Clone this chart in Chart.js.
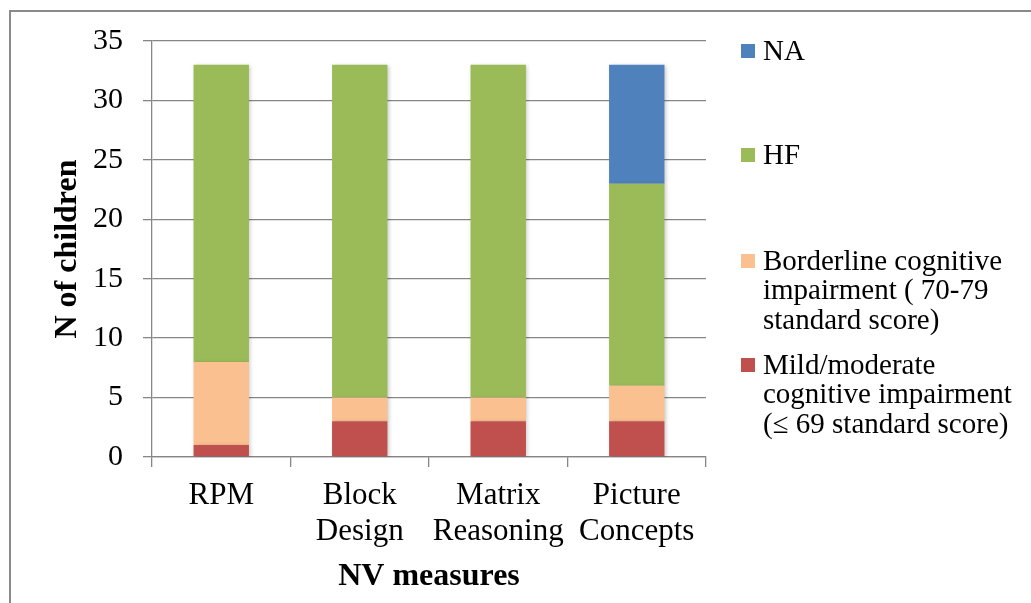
<!DOCTYPE html>
<html>
<head>
<meta charset="utf-8">
<script src="https://cdn.jsdelivr.net/npm/chart.js@4/dist/chart.umd.min.js"></script>
<style>
  html, body { margin: 0; padding: 0; background: #fff; }
  #wrap { position: relative; width: 1031px; height: 603px; overflow: hidden; }
  #frame { position: absolute; left: 9px; top: 10px; width: 1100px; height: 700px;
           border-left: 2px solid #8a8a8a; border-top: 2px solid #8a8a8a; box-sizing: border-box; }
  canvas { position: absolute; left: 0; top: 0; }
</style>
</head>
<body>
<div id="wrap">
  <div id="frame"></div>
  <canvas id="chart" width="1031" height="603"></canvas>
</div>
<script>
const categories = ['RPM', ['Block', 'Design'], ['Matrix', 'Reasoning'], ['Picture', 'Concepts']];
const mildValues = [1, 3, 3, 3];
const borderlineValues = [7, 2, 2, 3];
const hfValues = [25, 28, 28, 17];
const naValues = [0, 0, 0, 10];
const yTicks = [0, 5, 10, 15, 20, 25, 30, 35];

const seriesNames = ['Mild/moderate', 'Borderline', 'HF', 'NA'];
const legendLines = [
  ['Mild/moderate', 'cognitive impairment', '(\u2264 69 standard score)'],
  ['Borderline cognitive', 'impairment ( 70-79', 'standard score)'],
  ['HF'],
  ['NA']
];
const colors = ['#C0504D', '#FAC090', '#9BBB59', '#4F81BD'];

const FONT = '"Liberation Serif", "Times New Roman", serif';
const GRID = '#868686';

// first-line centre of each legend entry, from the top entry down
const legendY = { NA: 52, HF: 156, Borderline: 262, 'Mild/moderate': 366 };

const sideLegend = {
  id: 'sideLegend',
  afterDraw(chart) {
    const ctx = chart.ctx;
    ctx.save();
    ctx.font = '29px ' + FONT;
    ctx.textBaseline = 'middle';
    ctx.textAlign = 'left';
    chart.data.datasets.forEach((ds, i) => {
      const y = legendY[ds.label];
      ctx.fillStyle = ds.backgroundColor;
      ctx.fillRect(741, y - 8, 14, 14);
      ctx.fillStyle = '#000';
      legendLines[i].forEach((line, j) => ctx.fillText(line, 763, y + j * 29.5));
    });
    ctx.restore();
  }
};

const barShadow = {
  id: 'barShadow',
  beforeDatasetsDraw(chart) {
    const ctx = chart.ctx;
    ctx.save();
    ctx.shadowColor = 'rgba(0,0,0,0.22)';
    ctx.shadowBlur = 4;
    ctx.shadowOffsetX = 1.5;
    ctx.shadowOffsetY = 1;
  },
  afterDatasetsDraw(chart) {
    chart.ctx.restore();
  }
};

const datasets = [mildValues, borderlineValues, hfValues, naValues].map((vals, i) => ({
  label: seriesNames[i],
  data: vals,
  backgroundColor: colors[i],
  borderWidth: 0,
  categoryPercentage: 1,
  barPercentage: 0.4
}));

new Chart(document.getElementById('chart'), {
  type: 'bar',
  data: { labels: categories, datasets: datasets },
  options: {
    responsive: false,
    animation: false,
    layout: { padding: { left: 0, top: 41, right: 325, bottom: 0 } },
    plugins: { legend: { display: false }, tooltip: { enabled: false } },
    scales: {
      x: {
        stacked: true,
        grid: { display: true, drawOnChartArea: false, drawTicks: true, tickLength: 10, color: GRID, lineWidth: 1.3, offset: true },
        border: { display: true, color: GRID, width: 1.3 },
        ticks: { color: '#000', font: { family: FONT, size: 31, lineHeight: 1.16 }, padding: 11, maxRotation: 0, autoSkip: false },
        title: { display: true, text: 'NV measures', color: '#000', font: { family: FONT, size: 32, weight: 'bold' }, padding: { top: 0, bottom: 7 } },
        afterFit(scale) { scale.height = 146; }
      },
      y: {
        stacked: true,
        min: 0,
        max: 35,
        afterBuildTicks(scale) { scale.ticks = yTicks.map(v => ({ value: v })); },
        grid: { color: GRID, lineWidth: 1.3, drawTicks: true, tickLength: 9 },
        border: { display: true, color: GRID, width: 1.3 },
        ticks: { color: '#000', font: { family: FONT, size: 30 }, padding: 20 },
        title: { display: true, text: 'N of children', color: '#000', font: { family: FONT, size: 32, weight: 'bold' }, padding: { top: 49, bottom: 0 } },
        afterFit(scale) { scale.width = 152; }
      }
    }
  },
  plugins: [barShadow, sideLegend]
});
</script>
</body>
</html>
